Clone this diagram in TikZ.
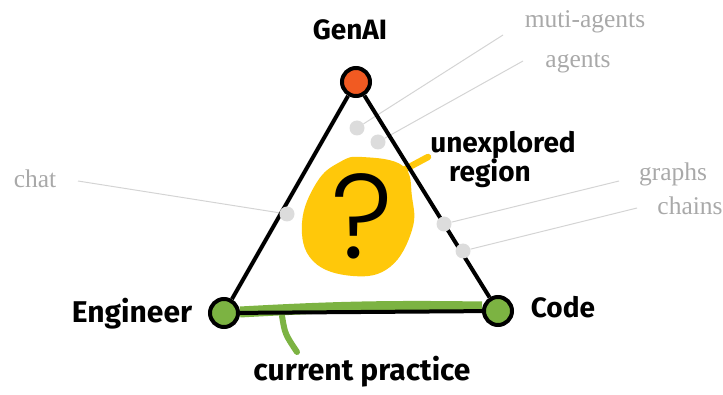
\documentclass[tikz,border=0pt]{standalone}
\usepackage{fontspec}
\setmainfont{Liberation Serif}
\newfontfamily\hand{Fira Sans}
\newfontfamily\qfont{Poppins Light}
\usetikzlibrary{backgrounds}
\definecolor{orangeN}{HTML}{F15A22}
\definecolor{greenN}{HTML}{7CB342}
\definecolor{yellowB}{HTML}{FFC80A}
\definecolor{dotgray}{HTML}{DCDCDC}
\definecolor{linegray}{HTML}{D4D4D4}
\definecolor{txtgray}{HTML}{A9A9A9}
\begin{document}
\begin{tikzpicture}[x=1pt,y=-1pt,
  vertex/.style={circle,draw=black,line width=4pt,minimum size=28pt,inner sep=0pt},
  edge/.style={line width=4pt,black},
  gdot/.style={circle,fill=dotgray,minimum size=15pt,inner sep=0pt},
  glabel/.style={text=txtgray,font=\fontsize{25.5}{25.5}\selectfont,inner sep=0pt,anchor=base},
  glink/.style={draw=linegray,line width=1pt},
  hlabel/.style={inner sep=0pt,anchor=base,font=\hand\bfseries\fontsize{#1}{#1}\selectfont},
  hlabel/.default=28,
  band/.style={draw=greenN,line width=11pt},
  pointer/.style={line width=6.5pt,line cap=round}
]
\useasboundingbox (0,0) rectangle (723,395);

% unexplored region blob
\begin{scope}[on background layer]
\fill[yellowB] plot[smooth cycle, tension=0.7] coordinates {(362,157) (403,166) (412,197) (412,230) (390,267) (353,276) (313,261) (302,223) (317,182) (340,162)};
\coordinate (blobtip) at (400,172);
\coordinate (blobend) at (428,157);
\draw[pointer,draw=yellowB] (blobtip) -- (blobend);
\end{scope}

% vertices
\node[vertex,fill=orangeN] (genai) at (356,82) {};
\node[vertex,fill=greenN] (eng) at (224,313) {};
\node[vertex,fill=greenN] (code) at (498,311) {};

% green band
\begin{scope}[on background layer]
\draw[band] ([yshift=1pt]eng.east) to[bend left=2] ([yshift=4pt]code.west);
\coordinate (cpstart) at (282,316);
\coordinate (cpend) at (297,352);
\draw[pointer,draw=greenN,line width=6pt] (cpstart) .. controls (285,334) .. (cpend);
\end{scope}

% triangle
\draw[edge] (genai) -- (eng);
\draw[edge] (genai) -- (code);
\draw[edge] (eng) -- (code);

% gray dots
\node[gdot] (dma) at (357,128) {};
\node[gdot] (dag) at (378,142) {};
\node[gdot] (dchat) at (287,214) {};
\node[gdot] (dgr) at (444,224) {};
\node[gdot] (dch) at (463,251) {};

% gray labels
\node[glabel] (lma) at (585,28) {muti-agents};
\node[glabel] (lag) at (578,68) {agents};
\node[glabel] (lchat) at (35,188) {chat};
\node[glabel] (lgr) at (673,181) {graphs};
\node[glabel] (lch) at (690,215) {chains};
\coordinate (ema) at (503,35);
\coordinate (eag) at (523,61);
\coordinate (echat) at (78,181);
\coordinate (egr) at (619,181);
\coordinate (ech) at (637,208);
\begin{scope}[on background layer]
\draw[glink] (ema) -- (dma);
\draw[glink] (eag) -- (dag);
\draw[glink] (echat) -- (dchat);
\draw[glink] (egr) -- (dgr);
\draw[glink] (ech) -- (dch);
\end{scope}

% hand labels
\node[hlabel=28] (lgen) at (350,40) {GenAI};
\node[hlabel=30] (leng) at (132,323) {Engineer};
\node[hlabel=28] (lcode) at (563,318) {Code};
\node[hlabel=28] (lunx) at (503,153) {unexplored};
\node[hlabel=28] (lreg) at (490,182) {region};
\node[hlabel=30] (lcur) at (362,381) {current practice};

% question mark
\node[font=\qfont\fontsize{120}{120}\selectfont,inner sep=0pt] (q) at (362,216) {?};
\end{tikzpicture}
\end{document}
